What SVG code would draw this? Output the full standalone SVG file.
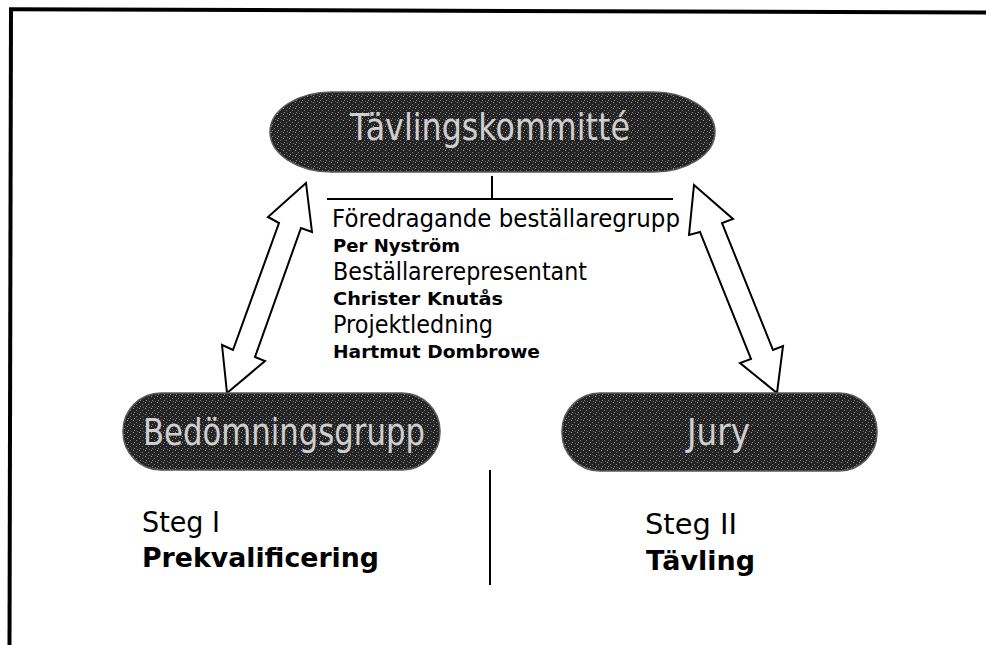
<svg xmlns="http://www.w3.org/2000/svg" width="986" height="645" viewBox="0 0 986 645">
  <style>
    .pill { fill: url(#dither); stroke: #5a5a5a; stroke-width: 1.5; }
    .plabel { font-family: "DejaVu Sans", "Liberation Sans", sans-serif; font-size: 38px; fill: #cfcfcf; }
    .reg { font-family: "DejaVu Sans", "Liberation Sans", sans-serif; font-size: 24px; fill: #000; }
    .name { font-family: "DejaVu Sans", "Liberation Sans", sans-serif; font-size: 17px; font-weight: bold; fill: #000; }
    .steg { font-family: "DejaVu Sans", "Liberation Sans", sans-serif; font-size: 28px; fill: #000; }
    .stegb { font-family: "DejaVu Sans", "Liberation Sans", sans-serif; font-size: 27px; font-weight: bold; fill: #000; }
    .arrow { fill: #fff; stroke: #000; stroke-width: 2; stroke-linejoin: miter; }
    .line { stroke: #000; stroke-width: 2; fill: none; }
    .frame { stroke: #000; stroke-width: 4; fill: none; }
  </style>
  <defs>
    <pattern id="dither" width="6" height="6" patternUnits="userSpaceOnUse">
      <rect width="6" height="6" fill="#242424"/>
      <rect x="1" y="0" width="1" height="1" fill="#9a9a9a"/>
      <rect x="4" y="2" width="1" height="1" fill="#7a7a7a"/>
      <rect x="2" y="4" width="1" height="1" fill="#8a8a8a"/>
      <rect x="5" y="5" width="1" height="1" fill="#6a6a6a"/>
    </pattern>
  </defs>

  <rect width="986" height="645" fill="#fff"/>

  <g id="frame">
    <line class="frame" x1="9" y1="9.3" x2="986" y2="12.5"/>
    <line class="frame" x1="11" y1="8" x2="9.5" y2="645"/>
  </g>

  <g id="connectors">
    <polygon class="arrow" points="306,183 312,232 301,228 255,357 265,361 227,393 222,345 233,350 279,223 268,217"/>
    <polygon class="arrow" points="694,185 733,219 722,223 773,350 783,346 777,393 740,363 751,359 700,232 689,235"/>
    <line class="line" x1="492" y1="176" x2="492" y2="199"/>
    <line class="line" x1="327" y1="199" x2="673" y2="199"/>
  </g>

  <g id="tavlingskommitte">
    <rect class="pill" x="270" y="92" width="445" height="80" rx="62" ry="40"/>
    <text class="plabel" x="350" y="140" textLength="280" lengthAdjust="spacingAndGlyphs">Tävlingskommitté</text>
  </g>

  <g id="bestallargrupp">
    <text class="reg" x="332" y="227" textLength="348" lengthAdjust="spacingAndGlyphs">Föredragande beställaregrupp</text>
    <text class="name" x="333" y="252" textLength="127" lengthAdjust="spacingAndGlyphs">Per Nyström</text>
    <text class="reg" x="333" y="280" textLength="254" lengthAdjust="spacingAndGlyphs">Beställarerepresentant</text>
    <text class="name" x="333" y="305" textLength="170" lengthAdjust="spacingAndGlyphs">Christer Knutås</text>
    <text class="reg" x="333" y="333" textLength="160" lengthAdjust="spacingAndGlyphs">Projektledning</text>
    <text class="name" x="333" y="358" textLength="207" lengthAdjust="spacingAndGlyphs">Hartmut Dombrowe</text>
  </g>

  <g id="bedomningsgrupp">
    <rect class="pill" x="123" y="393" width="317" height="77" rx="38" ry="38"/>
    <text class="plabel" x="143" y="445" textLength="282" lengthAdjust="spacingAndGlyphs">Bedömningsgrupp</text>
  </g>

  <g id="jury">
    <rect class="pill" x="562" y="393" width="315" height="78" rx="38" ry="38"/>
    <text class="plabel" x="687" y="445" textLength="63" lengthAdjust="spacingAndGlyphs">Jury</text>
  </g>

  <g id="divider">
    <line class="line" x1="490" y1="470" x2="490" y2="585"/>
  </g>

  <g id="steg1">
    <text class="steg" x="142" y="532" textLength="78" lengthAdjust="spacingAndGlyphs">Steg I</text>
    <text class="stegb" x="142" y="567" textLength="237" lengthAdjust="spacingAndGlyphs">Prekvalificering</text>
  </g>

  <g id="steg2">
    <text class="steg" x="645" y="534" textLength="92" lengthAdjust="spacingAndGlyphs">Steg II</text>
    <text class="stegb" x="646" y="570" textLength="109" lengthAdjust="spacingAndGlyphs">Tävling</text>
  </g>
</svg>
